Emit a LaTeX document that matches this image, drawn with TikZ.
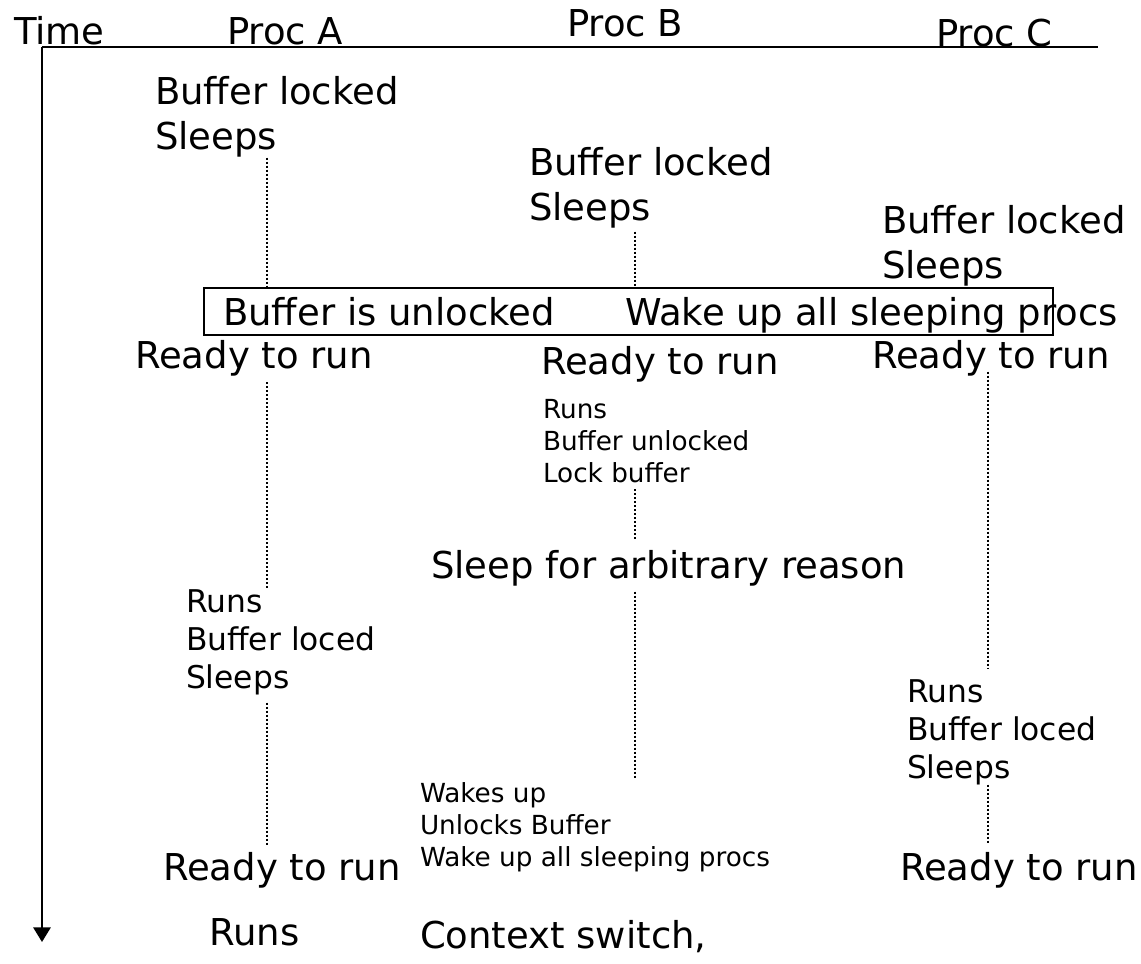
\documentclass[tikz,border=0pt]{standalone}
\usepackage{fontspec}
\setmainfont{DejaVu Sans}
\usetikzlibrary{arrows.meta}

\begin{document}
\begin{tikzpicture}[x=0.75pt,y=-0.75pt,
  lbl/.style={inner sep=0pt, outer sep=0pt, anchor=base west, align=left},
  big/.style={lbl, font=\fontsize{27.75}{33.75}\selectfont},
  mid/.style={lbl, font=\fontsize{23.5}{28.5}\selectfont},
  small/.style={lbl, font=\fontsize{19.7}{23.7}\selectfont},
  lane/.style={line width=1.5pt, dash pattern=on 1.5pt off 1.5pt},
  axis/.style={line width=1.5pt}
]
\useasboundingbox (0,0) rectangle (1141,963);

% time axis and header rule
\coordinate (hL) at (42,47);
\coordinate (hR) at (1098,47);
\coordinate (tEnd) at (42,942);
\draw[axis] (hL) -- (hR);
\draw[axis,-{Triangle[width=13pt,length=11pt]}] (hL) -- (tEnd);

% lane positions
\coordinate (laneA) at (267,0);
\coordinate (laneB) at (635,0);
\coordinate (laneC) at (988,0);

% headers
\node[big] (time)  at (14,45)  {Time};
\node[big] (procA) at (227,45) {Proc A};
\node[big] (procB) at (567,37) {Proc B};
\node[big] (procC) at (936,47) {Proc C};

% first attempts to take the buffer (anchored on the last line)
\node[big] (aLock) at (155,150) {Buffer locked\\Sleeps};
\node[big] (bLock) at (529,220) {Buffer locked\\Sleeps};
\node[big] (cLock) at (882,278) {Buffer locked\\Sleeps};

% unlock event
\node (box) [draw, line width=1.5pt, inner sep=0pt, anchor=north west,
  minimum width=636.75pt, minimum height=35.25pt] at (203,287) {};
\node[big] (unl)  at (223,325) {Buffer is unlocked};
\node[big] (wake) at (625,325) {Wake up all sleeping procs};

% all ready
\node[big] (aReady) at (135,368) {Ready to run};
\node[big] (bReady) at (541,374) {Ready to run};
\node[big] (cReady) at (872,368) {Ready to run};

% B runs first
\node[small] (bRuns) at (543,482) {Runs\\Buffer unlocked\\Lock buffer};
\node[big] (bSleep) at (431,578) {Sleep for arbitrary reason};

% A and C run and find the buffer locked
\node[mid] (aRuns) at (186,688) {Runs\\Buffer loced\\Sleeps};
\node[mid] (cRuns) at (907,778) {Runs\\Buffer loced\\Sleeps};

% B wakes and releases
\node[small] (bWakes) at (420,866) {Wakes up\\Unlocks Buffer\\Wake up all sleeping procs};

\node[big] (aReady2) at (163,880) {Ready to run};
\node[big] (cReady2) at (900,880) {Ready to run};

\node[big] (aRun2) at (209,945) {Runs};
\node[big] (ctx) at (420,948) {Context switch,};

% waiting periods on each lane
\draw[lane] (aLock.south -| laneA) -- (box.north -| laneA);
\draw[lane, shorten <=3pt] (bLock.south -| laneB) -- (box.north -| laneB);
\draw[lane, shorten <=5pt] (aReady.south -| laneA) -- (aRuns.north -| laneA);
\draw[lane, shorten <=6pt, shorten >=5pt] (aRuns.south -| laneA) -- (aReady2.north -| laneA);
\draw[lane, shorten <=5pt, shorten >=7pt] (bRuns.south -| laneB) -- (bSleep.north -| laneB);
\draw[lane, shorten <=4.5pt, shorten >=4pt] (bSleep.south -| laneB) -- (bWakes.north -| laneB);
\draw[lane, shorten <=-3pt, shorten >=7.5pt] (cReady.south -| laneC) -- (cRuns.north -| laneC);
\draw[lane, shorten >=7pt] (cRuns.south -| laneC) -- (cReady2.north -| laneC);
\end{tikzpicture}
\end{document}
